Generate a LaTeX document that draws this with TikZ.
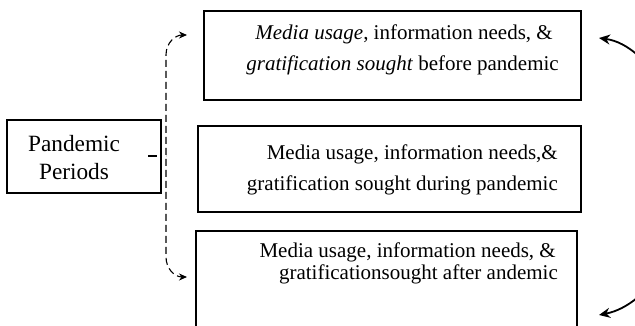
\documentclass[tikz,border=0pt]{standalone}
\usepackage{fontspec}
\setmainfont{Liberation Serif}
\usetikzlibrary{arrows.meta}
\begin{document}
\begin{tikzpicture}[x=1pt,y=-1pt,
  frame/.style={draw=black, line width=1.6pt, inner sep=0pt},
  boxtxt/.style={font=\fontsize{21}{25}\selectfont, inner sep=0pt, anchor=base east},
  pptxt/.style={font=\fontsize{23.3}{28}\selectfont, inner sep=0pt, anchor=base},
  dashline/.style={line width=1.1pt, dash pattern=on 7pt off 4pt},
  smalltip/.style={{Stealth[length=8pt,width=7pt]}-{Stealth[length=8pt,width=7pt]}},
  looparrow/.style={line width=1.8pt, {Stealth[length=11pt,width=10pt]}-{Stealth[length=11pt,width=10pt]}}]
\useasboundingbox (0,0) rectangle (635,326);
\fill[white] (0,0) rectangle (635,326);
\clip (0,0) rectangle (635,326);
% boxes
\node[frame, minimum width=377pt, minimum height=89pt] (b1) at (392.5,55.5) {};
\node[frame, minimum width=383pt, minimum height=86pt] (b2) at (389.5,169) {};
\node[frame, minimum width=381pt, minimum height=109pt] (b3) at (386.5,285.5) {};
\node[frame, minimum width=154pt, minimum height=73pt] (pp) at (84,156.5) {};
% texts
\node[boxtxt] (b1a) at (553,40) {\textit{Media usage}, information needs, \&};
\node[boxtxt] (b1b) at (559,71) {\textit{gratification sought} before pandemic};
\node[boxtxt] (b2a) at (558,160) {Media usage, information needs,\&};
\node[boxtxt] (b2b) at (558,191) {gratification sought during pandemic};
\node[boxtxt] (b3a) at (556,257) {Media usage, information needs, \&};
\node[boxtxt] (b3b) at (558,279) {gratificationsought after andemic};
\node[pptxt] (ppa) at (74,152) {Pandemic};
\node[pptxt] (ppb) at (74,180) {Periods};
% dashed connectors
\coordinate (d0) at (148,156);
\coordinate (v) at (166,156);
\coordinate (t1) at (187,35);
\coordinate (t3) at (187,277);
\draw[line width=1.2pt, dash pattern=on 9pt off 9pt] (d0) -- (v);
\draw[dashline, smalltip] (t1) .. controls (176,35) and (166,42) .. (166,55)
  -- (166,257) .. controls (166,268) and (174,277) .. (t3);
% right loop arrow
\coordinate (r1) at (599,38);
\coordinate (r3) at (599,315);
\draw[looparrow] (r1) .. controls (650,45) and (690,120) .. (690,176)
  .. controls (690,240) and (650,305) .. (r3);
\end{tikzpicture}
\end{document}
